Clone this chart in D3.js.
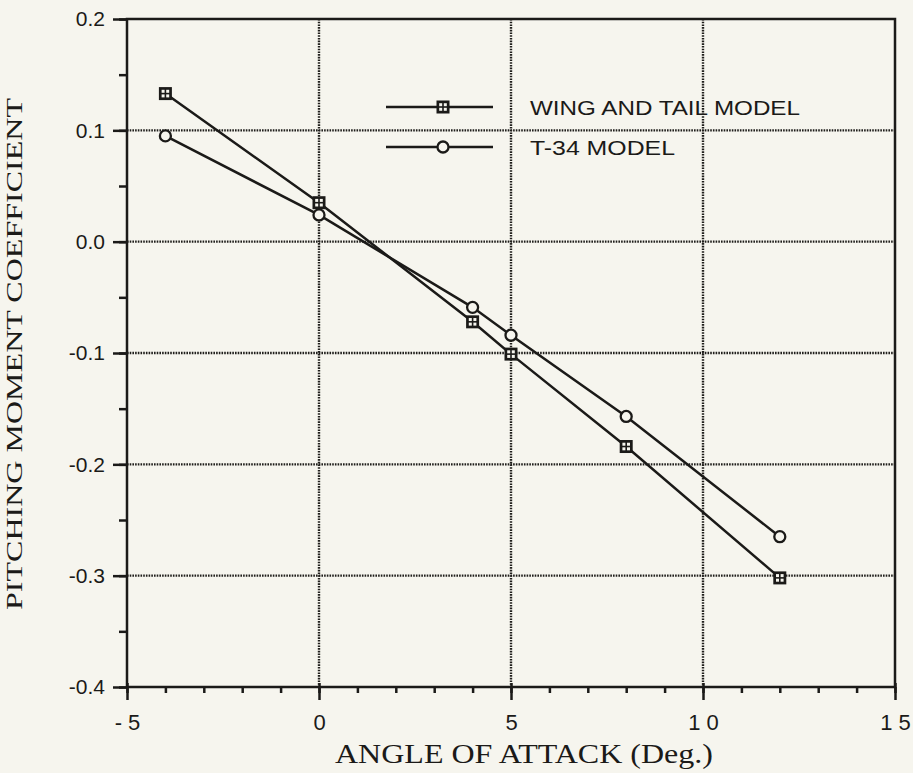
<!DOCTYPE html>
<html>
<head>
<meta charset="utf-8">
<script src="https://cdn.jsdelivr.net/npm/d3@7"></script>
<style>
  body { margin: 0; background: #f6f5ee; }
  svg { display: block; }
</style>
</head>
<body>
<svg width="913" height="773"></svg>
<script>
// angle of attack (deg)
const angles = [-4, 0, 4, 5, 8, 12];
// pitching moment coefficient, per model
const wingTail = [0.133, 0.035, -0.072, -0.101, -0.184, -0.302];
const t34 = [0.095, 0.024, -0.059, -0.084, -0.157, -0.265];
const seriesNames = ["WING AND TAIL MODEL", "T-34 MODEL"];

const xTicks = [-5, 0, 5, 10, 15];
const xTickLabels = ["- 5", "0", "5", "1 0", "1 5"];
const yTicks = [0.2, 0.1, 0.0, -0.1, -0.2, -0.3, -0.4];
const yTickLabels = ["0.2", "0.1", "0.0", "-0.1", "-0.2", "-0.3", "-0.4"];

const ink = "#1b1a18";
const paper = "#f6f5ee";
const sans = "Liberation Sans, Arial, sans-serif";
const serif = "Liberation Serif, Times New Roman, serif";
const svg = d3.select("svg");

const x = d3.scaleLinear().domain([-5, 15]).range([127, 895]);
const y = d3.scaleLinear().domain([-0.4, 0.2]).range([687, 19]);

// dotted grid
const grid = svg.append("g").attr("stroke", "#201f1c").attr("stroke-width", 2.4)
    .attr("stroke-dasharray", "1.6,1.1");
grid.selectAll("line.h").data(yTicks.slice(1, -1)).enter().append("line")
    .attr("x1", x(-5)).attr("x2", x(15))
    .attr("y1", d => y(d)).attr("y2", d => y(d));
grid.selectAll("line.v").data(xTicks.slice(1, -1)).enter().append("line")
    .attr("y1", y(0.2)).attr("y2", y(-0.4))
    .attr("x1", d => x(d)).attr("x2", d => x(d));

// frame
svg.append("rect")
    .attr("x", x(-5)).attr("y", y(0.2))
    .attr("width", x(15) - x(-5)).attr("height", y(-0.4) - y(0.2))
    .attr("fill", "none").attr("stroke", ink).attr("stroke-width", 2.5);

// x axis: minor then major
svg.append("g").attr("transform", `translate(0,${y(-0.4)})`)
    .call(d3.axisBottom(x).tickValues(d3.range(-5, 16, 1)).tickSize(6).tickFormat(""))
    .call(g => g.select(".domain").remove())
    .selectAll("line").attr("stroke", ink).attr("stroke-width", 2.5);

const xAxis = svg.append("g").attr("transform", `translate(0,${y(-0.4)})`)
    .call(d3.axisBottom(x).tickValues(xTicks).tickSize(13).tickPadding(14)
        .tickFormat((d, i) => xTickLabels[i]));
xAxis.select(".domain").remove();
xAxis.selectAll("line").attr("stroke", ink).attr("stroke-width", 2.5).attr("y1", -4);
xAxis.selectAll("text").attr("fill", ink)
    .style("font-family", sans).style("font-size", "22px");

// y axis
svg.append("g").attr("transform", `translate(${x(-5)},0)`)
    .call(d3.axisLeft(y).tickValues(d3.range(-8, 5, 1).map(d => d * 0.05)).tickSize(8).tickFormat(""))
    .call(g => g.select(".domain").remove())
    .selectAll("line").attr("stroke", ink).attr("stroke-width", 2.5);

const yAxis = svg.append("g").attr("transform", `translate(${x(-5)},0)`)
    .call(d3.axisLeft(y).tickValues(yTicks).tickSize(14).tickPadding(8)
        .tickFormat((d, i) => yTickLabels[i]));
yAxis.select(".domain").remove();
yAxis.selectAll("line").attr("stroke", ink).attr("stroke-width", 2.5);
yAxis.selectAll("text").attr("fill", ink)
    .style("font-family", sans).style("font-size", "21px");

// axis titles
svg.append("text")
    .attr("x", 335).attr("y", 763)
    .attr("textLength", 378).attr("lengthAdjust", "spacingAndGlyphs")
    .attr("fill", ink)
    .style("font-family", serif).style("font-size", "27px")
    .text("ANGLE OF ATTACK (Deg.)");

svg.append("text")
    .attr("transform", `translate(22,610) rotate(-90)`)
    .attr("textLength", 512).attr("lengthAdjust", "spacingAndGlyphs")
    .attr("fill", ink)
    .style("font-family", serif).style("font-size", "24px")
    .text("PITCHING MOMENT COEFFICIENT");

// lines
const line = d3.line().x((d, i) => x(angles[i])).y(d => y(d));
[wingTail, t34].forEach(s => {
  svg.append("path").datum(s).attr("d", line)
      .attr("fill", "none").attr("stroke", ink).attr("stroke-width", 2.5);
});

function squareMark(g, cx, cy) {
  g.append("rect").attr("x", cx - 6.5).attr("y", cy - 6.5).attr("width", 13).attr("height", 13)
      .attr("fill", ink);
  [[-1, -1], [1, -1], [-1, 1], [1, 1]].forEach(([dx, dy]) => {
    g.append("rect").attr("x", cx + dx * 2.3 - 1.5).attr("y", cy + dy * 2.3 - 1.5)
        .attr("width", 3).attr("height", 3).attr("fill", paper);
  });
}
function circleMark(g, cx, cy) {
  g.append("circle").attr("cx", cx).attr("cy", cy).attr("r", 5.5)
      .attr("fill", paper).attr("stroke", ink).attr("stroke-width", 2.3);
}

const marks = svg.append("g");
wingTail.forEach((v, i) => squareMark(marks, x(angles[i]), y(v)));
t34.forEach((v, i) => circleMark(marks, x(angles[i]), y(v)));

// legend
const legendY = [107, 147];
const legendWidths = [270, 145];
const leg = svg.append("g");
legendY.forEach((ly, i) => {
  leg.append("line").attr("x1", 386).attr("x2", 493).attr("y1", ly).attr("y2", ly)
      .attr("stroke", ink).attr("stroke-width", 2.5);
  if (i === 0) squareMark(leg, 443, ly); else circleMark(leg, 443, ly);
  leg.append("text").attr("x", 530).attr("y", ly + 8).attr("fill", ink)
      .attr("textLength", legendWidths[i]).attr("lengthAdjust", "spacingAndGlyphs")
      .style("font-family", sans).style("font-size", "21px")
      .text(seriesNames[i]);
});
</script>
</body>
</html>
